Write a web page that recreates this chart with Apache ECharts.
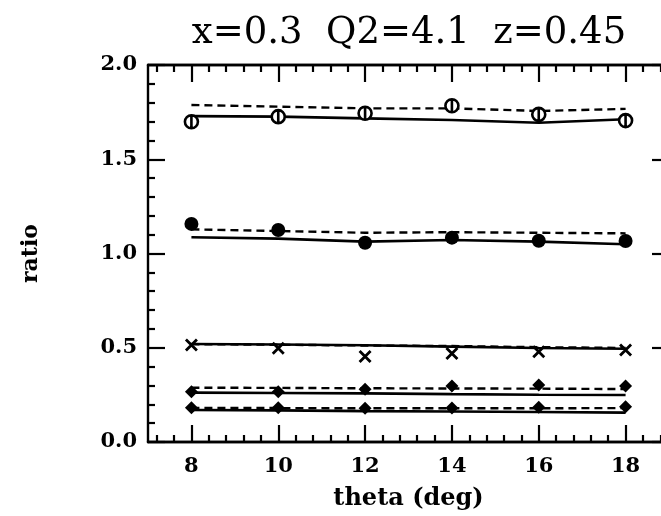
<!DOCTYPE html>
<html>
<head>
<meta charset="utf-8">
<script src="https://cdn.jsdelivr.net/npm/echarts@6/dist/echarts.min.js"></script>
<style>html,body{margin:0;padding:0;background:#fff;overflow:hidden;width:661px;height:516px;}#c{width:690px;height:516px;}</style>
</head>
<body>
<div id="c"></div>
<script>
// ---- data ----
var theta = [8, 10, 12, 14, 16, 18];
var xTickLabels = [8, 10, 12, 14, 16, 18];
var yTickLabels = ['0.0', '0.5', '1.0', '1.5', '2.0'];

var openCircData   = [1.699, 1.726, 1.744, 1.784, 1.738, 1.705];
var openCircDashed = [1.788, 1.779, 1.770, 1.770, 1.756, 1.767];
var openCircSolid  = [1.729, 1.726, 1.717, 1.708, 1.694, 1.712];

var fillCircData   = [1.157, 1.125, 1.057, 1.084, 1.068, 1.066];
var fillCircDashed = [1.128, 1.119, 1.110, 1.113, 1.110, 1.107];
var fillCircSolid  = [1.086, 1.079, 1.063, 1.072, 1.063, 1.049];

var crossData   = [0.515, 0.497, 0.453, 0.470, 0.479, 0.488];
var crossSolid  = [0.520, 0.517, 0.513, 0.506, 0.499, 0.495];
var crossDashed = [0.519, 0.516, 0.512, 0.509, 0.503, 0.499];

var diamUpData   = [0.267, 0.266, 0.280, 0.297, 0.302, 0.297];
var diamUpDashed = [0.288, 0.287, 0.285, 0.284, 0.283, 0.281];
var diamUpSolid  = [0.262, 0.260, 0.258, 0.254, 0.251, 0.249];

var diamLoData   = [0.182, 0.182, 0.179, 0.180, 0.184, 0.187];
var diamLoDashed = [0.180, 0.180, 0.179, 0.179, 0.179, 0.180];
var diamLoSolid  = [0.170, 0.168, 0.164, 0.162, 0.159, 0.156];

// ---- helpers ----
function pairs(ys) { return theta.map(function (t, i) { return [t, ys[i]]; }); }
var minorX = [];
for (var v = 7.2; v < 19; v += 0.4) {
  var r = Math.round(v * 10) / 10;
  if (Math.abs((r / 2) - Math.round(r / 2)) > 1e-6) minorX.push(r);
}
var FONT = '"DejaVu Serif", "Liberation Serif", serif';

function solid(ys) {
  return { type: 'line', data: pairs(ys), symbol: 'none', silent: true,
    lineStyle: { color: '#000', width: 2.6, type: 'solid' }, z: 2 };
}
function dashed(ys) {
  return { type: 'line', data: pairs(ys), symbol: 'none', silent: true,
    lineStyle: { color: '#000', width: 2.4, type: [8, 5] }, z: 2 };
}
function marks(ys, symbol, size, fill, bw) {
  return { type: 'scatter', data: pairs(ys), symbol: symbol, symbolSize: size, z: 3,
    itemStyle: { color: fill, borderColor: '#000', borderWidth: bw, opacity: 1 } };
}

var circBar = 'path://M0,-10 A10,10 0 1,1 0,10 A10,10 0 1,1 0,-10 Z M0,-10 L0,10';
var cross = 'path://M-10,-10 L10,10 M10,-10 L-10,10';

function xAx(pos, vals, len, showLabel) {
  return { type: 'value', min: 7, max: 19, position: pos,
    axisLine: { show: true, lineStyle: { color: '#000', width: 2.4 } },
    splitLine: { show: false },
    axisTick: { show: true, inside: true, length: len, customValues: vals,
      lineStyle: { color: '#000', width: 2.2 } },
    axisLabel: { show: showLabel, customValues: xTickLabels, margin: 14,
      color: '#000', fontFamily: FONT, fontWeight: 'bold', fontSize: 21 } };
}
function yAx(pos, showLabel) {
  return { type: 'value', min: 0, max: 2, interval: 0.5, position: pos,
    axisLine: { show: true, lineStyle: { color: '#000', width: 2.4 } },
    splitLine: { show: false },
    axisTick: { show: true, inside: true, length: 17, lineStyle: { color: '#000', width: 2.2 } },
    minorTick: { show: true, splitNumber: 5, length: 7, lineStyle: { color: '#000', width: 2.2 } },
    axisLabel: { show: showLabel, margin: 11, color: '#000', fontFamily: FONT,
      fontWeight: 'bold', fontSize: 21,
      formatter: function (val) { return yTickLabels[Math.round(val / 0.5)]; } } };
}

var chart = echarts.init(document.getElementById('c'));
var xAxes = [xAx('bottom', xTickLabels, 17, true), xAx('bottom', minorX, 7, false),
             xAx('top', xTickLabels, 17, false), xAx('top', minorX, 7, false)];
var yAxes = [yAx('left', true), yAx('right', false)];
xAxes[0].name = 'theta (deg)';
xAxes[0].nameLocation = 'middle';
xAxes[0].nameGap = 45;
xAxes[0].nameTextStyle = { color: '#000', fontFamily: FONT, fontWeight: 'bold', fontSize: 24 };
yAxes[0].name = 'ratio';
yAxes[0].nameLocation = 'middle';
yAxes[0].nameGap = 106;
yAxes[0].nameTextStyle = { color: '#000', fontFamily: FONT, fontWeight: 'bold', fontSize: 22 };

chart.setOption({
  animation: false,
  backgroundColor: '#fff',
  title: { text: 'x=0.3  Q2=4.1  z=0.45', left: 404, top: 10, textAlign: 'center',
    textStyle: { color: '#000', fontFamily: FONT, fontWeight: 'normal', fontSize: 37 } },
  grid: { left: 148, top: 65, width: 521, height: 377, containLabel: false },
  xAxis: xAxes,
  yAxis: yAxes,
  series: [
    dashed(openCircDashed), solid(openCircSolid), marks(openCircData, circBar, 13, '#fff', 2.6),
    dashed(fillCircDashed), solid(fillCircSolid), marks(fillCircData, 'circle', 14, '#000', 0),
    dashed(crossDashed), solid(crossSolid), marks(crossData, cross, 11, 'none', 2.8),
    dashed(diamUpDashed), solid(diamUpSolid), marks(diamUpData, 'diamond', 13, '#000', 0),
    dashed(diamLoDashed), solid(diamLoSolid), marks(diamLoData, 'diamond', 13, '#000', 0)
  ]
});
</script>
</body>
</html>
